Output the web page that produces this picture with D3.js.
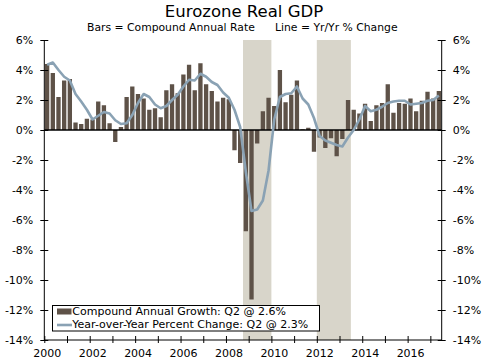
<!DOCTYPE html>
<html>
<head>
<meta charset="utf-8">
<script src="https://cdn.jsdelivr.net/npm/d3@7"></script>
<style>
html,body{margin:0;padding:0;background:#fff;}
svg{display:block;font-family:"DejaVu Sans",Verdana,sans-serif;}
</style>
</head>
<body>
<svg id="chart" width="493" height="361"></svg>
<script>
// ---- data ----
const startYear = 2000;
const quarters = d3.range(70).map(i => startYear + Math.floor(i / 4) + "Q" + (i % 4 + 1));
const barValues = [
  4.4, 3.8, 2.2, 3.3,
  3.4, 0.5, 0.4, 0.75,
  0.7, 1.9, 1.65, 0.45,
  -0.8, 0.2, 2.2, 2.9,
  2.4, 2.1, 1.35, 1.45,
  0.85, 2.65, 3.05, 2.45,
  3.7, 4.35, 2.65, 4.45,
  3.05, 2.6, 1.9, 2.15,
  2.05, -1.35, -2.2, -6.75,
  -11.3, -0.9, 1.25, 2.15,
  1.6, 4.0, 1.85, 2.35,
  3.3, 0.05, 0.15, -1.45,
  -0.5, -1.2, -0.55, -1.75,
  -0.6, 2.0, 1.35, 1.1,
  1.75, 0.6, 1.65, 1.8,
  3.05, 1.15, 1.8, 1.75,
  2.1, 1.25, 1.95, 2.55,
  2.1, 2.6
];
const yoyValues = [
  4.35, 4.5, 4.0, 3.55,
  3.3, 2.4, 1.9, 1.35,
  0.7, 0.95, 1.2, 1.1,
  0.65, 0.4, 0.45, 1.0,
  1.8, 2.4, 2.2, 1.7,
  1.45, 1.6, 2.0, 2.35,
  2.9, 3.35, 3.3, 3.75,
  3.55, 3.2, 3.0, 2.5,
  2.15, 1.35, 0.2, -2.8,
  -5.4, -5.3, -4.7, -2.7,
  0.7, 2.2, 2.4, 2.45,
  2.9, 2.1, 1.7, 0.8,
  -0.4, -0.7, -0.85, -1.0,
  -1.1, -0.5, 0.0, 0.7,
  1.6, 1.25, 1.35, 1.55,
  1.8, 1.9, 1.95, 1.95,
  1.7, 1.75, 1.8, 1.95,
  2.0, 2.3
];
const recessions = [[2008.75, 2010.0], [2012.0, 2013.5]];
const yTicks = [6, 4, 2, 0, -2, -4, -6, -8, -10, -12, -14];
const xLabelYears = [2000, 2002, 2004, 2006, 2008, 2010, 2012, 2014, 2016];
const xMinorYears = d3.range(2000, 2018);
const titleText = "Eurozone Real GDP";
const subtitleLeft = "Bars = Compound Annual Rate";
const subtitleRight = "Line = Yr/Yr % Change";
const legendLabels = ["Compound Annual Growth: Q2 @ 2.6%", "Year-over-Year Percent Change: Q2 @ 2.3%"];

// ---- layout ----
const svg = d3.select("#chart");
const pL = 44.3, pR = 441.7, pT = 40, pB = 340;
const barColor = "#5e5248", lineColor = "#8aa2b4", shadeColor = "#d8d5ca";

const x = d3.scaleLinear().domain([2000, 2017.5]).range([pL, pR]);
const y = d3.scaleLinear().domain([-14, 6]).range([pB, pT]);
const qMid = i => startYear + i * 0.25 + 0.125;

// shading
svg.append("g").selectAll("rect").data(recessions).join("rect")
  .attr("x", d => x(d[0])).attr("width", d => x(d[1]) - x(d[0]))
  .attr("y", y(6)).attr("height", y(-14) - y(6))
  .attr("fill", shadeColor);

// bars
const bw = x(0.25) - x(0);
const barW = bw * 0.76;
svg.append("g").selectAll("rect").data(barValues).join("rect")
  .attr("x", (d, i) => x(qMid(i)) - barW / 2)
  .attr("width", barW)
  .attr("y", d => y(Math.max(0, d)))
  .attr("height", d => Math.abs(y(d) - y(0)))
  .attr("fill", barColor);

// zero line
svg.append("line").attr("x1", pL).attr("x2", pR)
  .attr("y1", y(0)).attr("y2", y(0))
  .attr("stroke", "#000").attr("stroke-width", 1.5);

// yoy line
const line = d3.line().x((d, i) => x(qMid(i))).y(d => y(d));
svg.append("path").datum(yoyValues)
  .attr("d", line).attr("fill", "none")
  .attr("stroke", lineColor).attr("stroke-width", 2.6)
  .attr("stroke-linejoin", "round");

// axes
const fmt = d => d + "%";
const gl = svg.append("g").attr("transform", `translate(${pL},0)`)
  .call(d3.axisLeft(y).tickValues(yTicks).tickFormat(fmt).tickSize(4).tickPadding(7));
const gr = svg.append("g").attr("transform", `translate(${pR},0)`)
  .call(d3.axisRight(y).tickValues(yTicks).tickFormat(fmt).tickSize(4).tickPadding(7));
[gl, gr].forEach(g => {
  g.select(".domain").attr("stroke", "#000").attr("d", `M0,${pT}V${pB}`);
  g.selectAll(".tick line").attr("x1", -4).attr("x2", 4).attr("stroke", "#000");
  g.selectAll("text").attr("font-size", 11).attr("fill", "#000")
    .attr("font-family", '"DejaVu Sans",Verdana,sans-serif');
});

const gx = svg.append("g").attr("transform", `translate(0,${pB})`)
  .call(d3.axisBottom(x).tickValues(xMinorYears).tickFormat("").tickSize(4));
gx.select(".domain").attr("stroke", "#000").attr("d", `M${pL},0H${pR}`);
gx.selectAll(".tick line").attr("y1", -4).attr("y2", 3).attr("stroke", "#000");

svg.append("g").selectAll("text").data(xLabelYears).join("text")
  .attr("x", d => x(d) + 3).attr("y", pB + 17)
  .attr("text-anchor", "middle").attr("font-size", 11).attr("fill", "#000")
  .text(d => d);

// titles
svg.append("text").attr("x", 244).attr("y", 17).attr("text-anchor", "middle")
  .attr("font-size", 16.5).attr("fill", "#000").text(titleText);
svg.append("text").attr("x", 87).attr("y", 30.5)
  .attr("font-size", 10.8).attr("fill", "#000").text(subtitleLeft);
svg.append("text").attr("x", 275).attr("y", 30.5)
  .attr("font-size", 10.8).attr("fill", "#000").text(subtitleRight);

// legend
const lg = svg.append("g");
lg.append("rect").attr("x", 52.5).attr("y", 305.5).attr("width", 267).attr("height", 25.5)
  .attr("fill", "#fff").attr("stroke", "#000").attr("stroke-width", 1);
lg.append("rect").attr("x", 57).attr("y", 308.5).attr("width", 14.5).attr("height", 6)
  .attr("fill", barColor);
lg.append("line").attr("x1", 57).attr("x2", 72).attr("y1", 325).attr("y2", 325)
  .attr("stroke", lineColor).attr("stroke-width", 2.6);
lg.selectAll("text").data(legendLabels).join("text")
  .attr("x", 72.3).attr("y", (d, i) => 314.8 + i * 12.7)
  .attr("font-size", 11).attr("fill", "#000").text(d => d);
</script>
</body>
</html>
